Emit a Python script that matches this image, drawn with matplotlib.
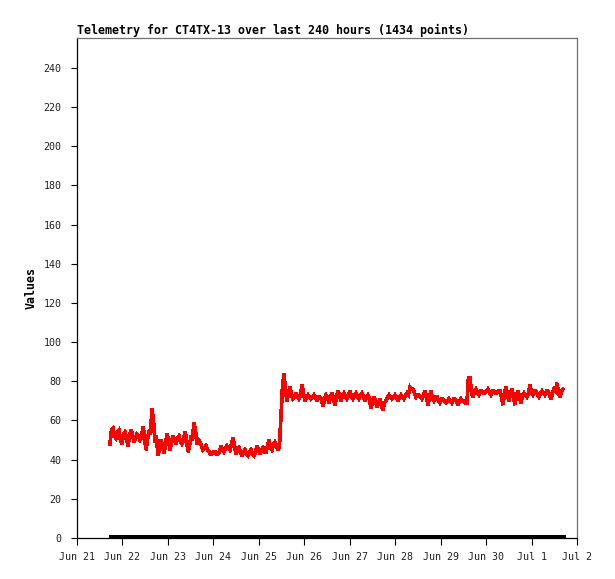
import matplotlib
matplotlib.use("Agg")
import matplotlib.pyplot as plt
import numpy as np
import datetime as dt

title = "Telemetry for CT4TX-13 over last 240 hours (1434 points)"
ylabel = "Values"

start = dt.datetime(2024, 6, 21)
end = dt.datetime(2024, 7, 2)

# red series: sample start offset (hours from Jun 21 00:00) and spacing (hours)
red_start_h = 17.4
red_step_h = 0.792
red_values = [
    # Jun 21.7 - 22.7
    48, 55, 56, 52, 51, 54, 55, 50, 48, 53, 54, 51, 47, 52, 55, 53, 49, 51, 53, 52,
    50, 51, 57, 52, 45, 50, 55, 53, 66, 60,
    # Jun 22.7 - 23.7
    49, 52, 42, 46, 50, 47, 43, 48, 53, 50, 45, 49, 52, 50, 48, 51, 52, 49, 48, 50,
    54, 51, 44, 47, 52, 50, 59, 55, 48, 50,
    # Jun 23.7 - 24.7
    49, 47, 45, 46, 47, 45, 44, 43, 43, 44, 44, 43, 43, 44, 47, 45, 44, 46, 47, 46,
    45, 48, 51, 47, 43, 45, 46, 44, 42, 44,
    # Jun 24.7 - 25.7
    45, 43, 42, 44, 45, 43, 42, 44, 47, 45, 43, 45, 46, 44, 44, 47, 50, 46, 45, 48,
    49, 47, 45, 47, 62, 77, 84, 75, 70, 74,
    # Jun 25.7 - 26.7
    77, 73, 71, 72, 74, 72, 71, 73, 78, 74, 70, 72, 73, 72, 71, 72, 73, 72, 70, 72,
    72, 71, 67, 71, 73, 72, 69, 72, 74, 71,
    # Jun 26.7 - 27.7
    68, 72, 75, 73, 70, 73, 74, 72, 71, 73, 75, 72, 71, 73, 74, 72, 71, 73, 74, 72,
    70, 72, 73, 71, 66, 70, 72, 70, 67, 69,
    # Jun 27.7 - 28.7
    71, 68, 65, 69, 70, 72, 73, 72, 71, 72, 73, 72, 70, 72, 73, 72, 71, 73, 74, 73,
    77, 76, 76, 74, 72, 73, 73, 72, 71, 73,
    # Jun 28.7 - 29.7
    75, 72, 68, 72, 75, 71, 70, 72, 72, 70, 69, 71, 71, 70, 69, 70, 71, 70, 69, 71,
    71, 70, 68, 70, 71, 70, 70, 69, 69, 82,
    # Jun 29.7 - 30.7
    82, 74, 72, 75, 76, 74, 73, 75, 75, 74, 74, 75, 76, 74, 73, 75, 75, 74, 74, 75,
    75, 72, 68, 74, 77, 73, 70, 74, 76, 72,
    # Jun 30.7 - Jul 1.7
    68, 73, 75, 72, 69, 73, 74, 73, 72, 74, 78, 74, 73, 75, 75, 73, 72, 74, 75, 74,
    73, 75, 75, 73, 71, 74, 76, 75, 79, 74, 72, 75, 76,
]
# black series (flat near zero)
black_hours = [16.9, 258.0]
black_values = [0.7, 0.7]

yticks = list(range(0, 241, 20))
xtick_labels = ["Jun 21", "Jun 22", "Jun 23", "Jun 24", "Jun 25", "Jun 26",
                "Jun 27", "Jun 28", "Jun 29", "Jun 30", "Jul 1", "Jul 2"]

red_times = [start + dt.timedelta(hours=red_start_h + i * red_step_h) for i in range(len(red_values))]
black_times = [start + dt.timedelta(hours=h) for h in black_hours]

fig = plt.figure(figsize=(6.15, 5.79), dpi=100)
ax = fig.add_axes([77/615, 41/579, 500/615, 500/579])

ax.plot(black_times, black_values, color="black", lw=1.6, solid_capstyle="butt",
        antialiased=False)
ax.plot(red_times, red_values, color="#ff0000", lw=1.9, solid_joinstyle="miter",
        antialiased=False)

ax.set_xlim(start, end)
ax.set_ylim(0, 255.2)
ax.set_yticks(yticks)
xt = [start + dt.timedelta(days=i) for i in range(len(xtick_labels))]
ax.set_xticks(xt)
ax.set_xticklabels(xtick_labels)

mono = "DejaVu Sans Mono"
for lab in ax.get_xticklabels() + ax.get_yticklabels():
    lab.set_family(mono)
    lab.set_fontsize(7.2)
    lab.set_color("#202020")

ax.tick_params(axis="y", direction="out", length=4.5, width=0.8, pad=6.5, color="black")
ax.tick_params(axis="x", direction="out", length=5, width=0.8, pad=5, color="black")

for s in ["top", "right"]:
    ax.spines[s].set_color("#707070")
    ax.spines[s].set_linewidth(0.9)
for s in ["left", "bottom"]:
    ax.spines[s].set_color("black")
    ax.spines[s].set_linewidth(0.9)

ax.set_title(title, loc="left", family=mono, fontweight="bold", fontsize=8.4, pad=3)
ax.set_ylabel(ylabel, family=mono, fontweight="bold", fontsize=8.4, labelpad=4)

fig.savefig("out.png", dpi=100)
